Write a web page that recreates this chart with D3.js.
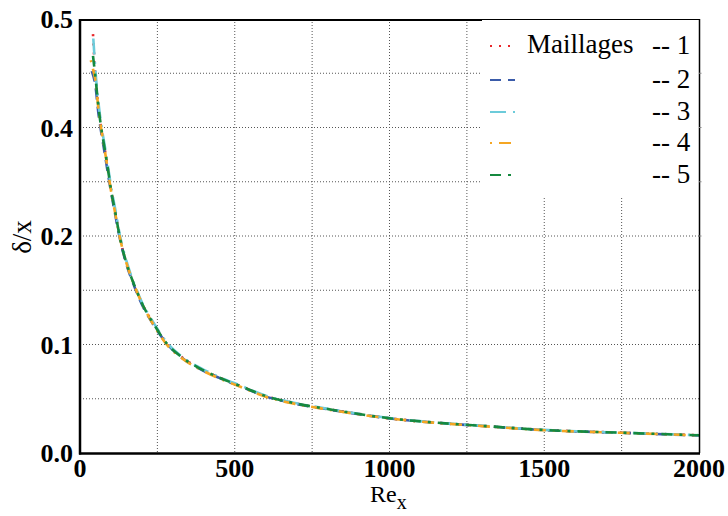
<!DOCTYPE html>
<html>
<head>
<meta charset="utf-8">
<script src="https://cdn.jsdelivr.net/npm/d3@7"></script>
<style>
  html, body { margin: 0; padding: 0; background: #fff; }
  svg { display: block; }
</style>
</head>
<body>
<svg id="chart" width="728" height="516"></svg>
<script>
// ---------- data ----------
const xTicks = [0, 500, 1000, 1500, 2000];
const xTickLabels = ["0", "500", "1000", "1500", "2000"];
const xGrid = [250, 500, 750, 1000, 1250, 1500, 1750];
const yTicks = [0, 0.1, 0.2, 0.3, 0.4];
const yTickLabels = ["0.0", "0.1", "0.2", "0.4", "0.5"];
const yGrid = [0.05, 0.1, 0.15, 0.2, 0.25, 0.3, 0.35];

const seriesNames = ["1", "2", "3", "4", "5"];
const seriesColors = ["#e8282b", "#3a5ba9", "#6ccbda", "#f5a623", "#15893f"];

const re1 = [42, 50, 60, 70, 80, 90, 100, 115, 130, 150, 175, 200, 240, 280, 330, 390, 450, 520, 600, 700, 800, 900, 1000, 1150, 1300, 1500, 1750, 2000];
const val1 = [0.386, 0.345, 0.318, 0.297, 0.280, 0.262, 0.243, 0.220, 0.197, 0.175, 0.155, 0.138, 0.118, 0.101, 0.088, 0.0775, 0.0695, 0.0615, 0.0525, 0.0455, 0.0405, 0.036, 0.032, 0.028, 0.025, 0.0212, 0.0187, 0.0163];
const re2 = [38, 50, 60, 70, 80, 90, 100, 115, 130, 150, 175, 200, 240, 280, 330, 390, 450, 520, 600, 700, 800, 900, 1000, 1150, 1300, 1500, 1750, 2000];
const val2 = [0.352, 0.338, 0.312, 0.293, 0.276, 0.258, 0.241, 0.218, 0.196, 0.174, 0.154, 0.137, 0.117, 0.101, 0.0875, 0.0772, 0.0692, 0.0612, 0.0522, 0.0452, 0.0403, 0.0358, 0.0319, 0.0279, 0.0249, 0.0211, 0.0186, 0.0162];
const re3 = [43, 50, 60, 70, 80, 90, 100, 115, 130, 150, 175, 200, 240, 280, 330, 390, 450, 520, 600, 700, 800, 900, 1000, 1150, 1300, 1500, 1750, 2000];
const val3 = [0.382, 0.352, 0.322, 0.300, 0.283, 0.265, 0.246, 0.223, 0.199, 0.177, 0.156, 0.139, 0.119, 0.102, 0.0885, 0.0782, 0.0700, 0.0620, 0.0528, 0.0458, 0.0407, 0.0362, 0.0322, 0.0281, 0.0251, 0.0213, 0.0188, 0.0164];
const re4 = [35, 45, 50, 60, 70, 80, 90, 100, 115, 130, 150, 175, 200, 240, 280, 330, 390, 450, 520, 600, 700, 800, 900, 1000, 1150, 1300, 1500, 1750, 2000];
const val4 = [0.362, 0.350, 0.343, 0.316, 0.296, 0.279, 0.261, 0.242, 0.219, 0.197, 0.175, 0.155, 0.138, 0.117, 0.100, 0.0872, 0.0768, 0.0688, 0.0608, 0.0519, 0.0450, 0.0401, 0.0357, 0.0318, 0.0278, 0.0248, 0.0210, 0.0186, 0.0162];
const re5 = [42, 50, 60, 70, 80, 90, 100, 115, 130, 150, 175, 200, 240, 280, 330, 390, 450, 520, 600, 700, 800, 900, 1000, 1150, 1300, 1500, 1750, 2000];
const val5 = [0.366, 0.346, 0.318, 0.297, 0.280, 0.262, 0.243, 0.220, 0.197, 0.175, 0.155, 0.138, 0.118, 0.101, 0.088, 0.0775, 0.0695, 0.0615, 0.0525, 0.0455, 0.0405, 0.036, 0.032, 0.028, 0.025, 0.0212, 0.0187, 0.0163];

const seriesRe = [re1, re2, re3, re4, re5];
const seriesVal = [val1, val2, val3, val4, val5];

// ---------- layout ----------
const svg = d3.select("#chart");
const L = 80, R = 699, T = 19, B = 453;
const lgX0 = 482, lgY1 = 198;
const x = d3.scaleLinear().domain([0, 2000]).range([L, R]);
const y = d3.scaleLinear().domain([0, 0.4]).range([B, T]);
const FF = '"Liberation Serif"';
const BASE = 18;
const dashes = ["2,7", "11,7", "16,7,2,7", "2,7,12,7", "11,7,3,7"];

// text helper: base 18px text scaled to the wanted size
function label(parent, tx, ty, str, size, opts = {}) {
  const rot = opts.rotate ? ` rotate(${opts.rotate})` : "";
  const g = parent.append("g").attr("transform", `translate(${tx},${ty})${rot} scale(${size / BASE})`);
  const t = g.append("text").attr("x", 0).attr("y", 0)
    .style("font-family", FF).style("font-size", BASE + "px");
  if (opts.anchor) t.attr("text-anchor", opts.anchor);
  if (opts.bold) t.style("font-weight", "bold");
  if (str !== null) t.text(str);
  return t;
}

// ---------- texts first ----------
const texts = svg.append("g");
xTicks.forEach((d, i) => label(texts, x(d), 477, xTickLabels[i], 26, { anchor: "middle", bold: true }));
yTicks.forEach((d, i) => label(texts, L - 7, y(d) + 9, yTickLabels[i], 26, { anchor: "end", bold: true }));

const xt = label(texts, 370, 502, null, 24);
xt.append("tspan").text("Re");
xt.append("tspan").style("font-size", "15px").attr("dy", 5.5).text("x");

label(texts, 31, 237, "δ/x", 27, { anchor: "middle", rotate: -90 });

const lgRows = [46, 80, 112, 143, 175];
label(texts, 527, 53, "Maillages", 27);
seriesNames.forEach((n, i) => label(texts, 652, lgRows[i] + 8, "-- " + n, 27));

// ---------- grid (kept out of the legend area) ----------
const grid = svg.append("g");
grid.selectAll("line.v").data(xGrid).join("line")
  .attr("x1", d => x(d)).attr("x2", d => x(d))
  .attr("y1", d => (x(d) > lgX0 ? lgY1 : T)).attr("y2", B)
  .attr("stroke", "#555").attr("stroke-width", 1).attr("stroke-dasharray", "1,2");
grid.selectAll("line.h").data(yGrid).join("line")
  .attr("x1", L).attr("x2", d => (y(d) < lgY1 ? lgX0 : R))
  .attr("y1", d => y(d)).attr("y2", d => y(d))
  .attr("stroke", "#555").attr("stroke-width", 1).attr("stroke-dasharray", "1,2");

// ---------- curves ----------
const line = d3.line().x(d => x(d[0])).y(d => y(d[1])).curve(d3.curveMonotoneX);
const curves = svg.append("g");
seriesNames.forEach((n, i) => {
  const pts = seriesRe[i].map((r, k) => [r, seriesVal[i][k]]);
  curves.append("path").datum(pts).attr("d", line).attr("fill", "none")
    .attr("stroke", seriesColors[i]).attr("stroke-width", 2.6)
    .attr("stroke-dasharray", dashes[i]);
});

// ---------- frame ----------
svg.append("line").attr("x1", L).attr("x2", lgX0).attr("y1", T + 1).attr("y2", T + 1).attr("stroke", "#000").attr("stroke-width", 2);
svg.append("line").attr("x1", lgX0).attr("x2", R + 1).attr("y1", T + 0.5).attr("y2", T + 0.5).attr("stroke", "#000").attr("stroke-width", 1.2);
svg.append("line").attr("x1", R + 0.5).attr("x2", R + 0.5).attr("y1", T).attr("y2", B).attr("stroke", "#000").attr("stroke-width", 1.5);
svg.append("line").attr("x1", L).attr("x2", L).attr("y1", T).attr("y2", B + 1.5).attr("stroke", "#000").attr("stroke-width", 2.5);
svg.append("line").attr("x1", L - 1).attr("x2", R + 1).attr("y1", B + 0.5).attr("y2", B + 0.5).attr("stroke", "#000").attr("stroke-width", 2.5);
svg.selectAll("line.rt").data(yGrid.slice(3)).join("line")
  .attr("x1", R).attr("x2", R + 2.5).attr("y1", d => y(d)).attr("y2", d => y(d))
  .attr("stroke", "#888").attr("stroke-width", 1);

// ---------- legend samples ----------
const lg = svg.append("g");
seriesNames.forEach((n, i) => {
  lg.append("line").attr("x1", 490).attr("x2", 515).attr("y1", lgRows[i]).attr("y2", lgRows[i])
    .attr("stroke", seriesColors[i]).attr("stroke-width", 2.2).attr("stroke-dasharray", dashes[i]);
});
</script>
</body>
</html>
